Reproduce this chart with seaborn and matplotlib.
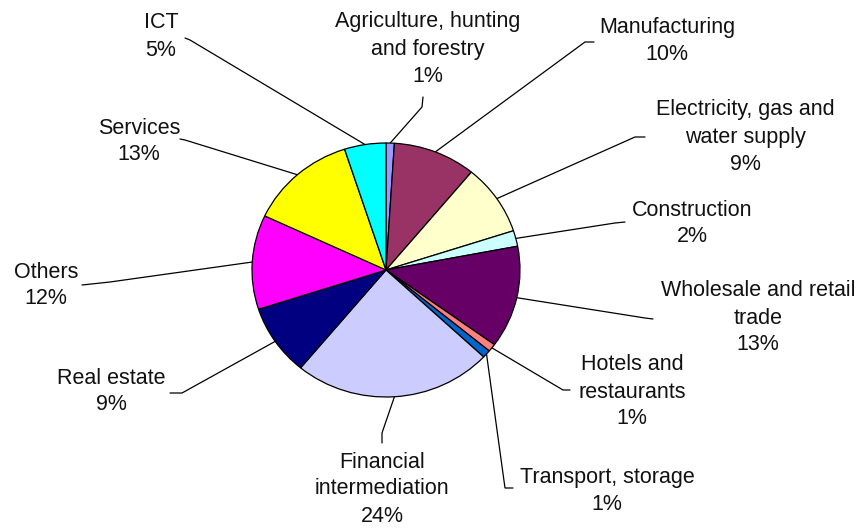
import numpy as np
import matplotlib
matplotlib.use("Agg")
import matplotlib.pyplot as plt
import seaborn as sns

# ---- data ----
sectors = ["Agriculture, hunting\nand forestry", "Manufacturing",
           "Electricity, gas and\nwater supply", "Construction",
           "Wholesale and retail\ntrade", "Hotels and\nrestaurants",
           "Transport, storage", "Financial\nintermediation",
           "Real estate", "Others", "Services", "ICT"]
shares = [1, 10, 9, 2, 13, 1, 1, 24, 9, 12, 13, 5]
slice_colors = ["#9999FF", "#993366", "#FFFFCC", "#CCFFFF", "#660066", "#FF8080",
                "#0066CC", "#CCCCFF", "#000080", "#FF00FF", "#FFFF00", "#00FFFF"]

# ---- layout (image pixel coordinates) ----
label_pos = [(428, 22), (667, 28), (745, 110), (692, 210), (758, 291), (632, 365),
             (607, 478), (382, 462), (111, 378), (46, 272), (139, 128), (161, 23)]
leader_tail = [[(422, 107), (423, 97)], [(585, 42), (594, 42)],
               [(635, 137), (645, 137)], [(615, 223), (625, 222)],
               [(645, 318), (653, 319)], [(563, 390), (570, 390)],
               [(505, 488), (513, 488)], [(382, 433), (382, 443)],
               [(182, 393), (170, 393)], [(110, 282), (82, 285)],
               [(185, 140), (180, 139)], [(190, 40), (185, 38)]]
LINE_H = 27

sns.set_theme(style="white")
plt.rcParams['font.family'] = ['Liberation Sans', 'DejaVu Sans']

W, H = 863, 529
fig = plt.figure(figsize=(W / 100, H / 100), dpi=100)
fig.patch.set_facecolor("white")

ov = fig.add_axes([0, 0, 1, 1])
ov.set_xlim(0, W)
ov.set_ylim(H, 0)
ov.axis("off")

cx, cy, rx, ry = 386, 270, 134, 127
axp = fig.add_axes([(cx - rx) / W, (H - (cy + ry)) / H, 2 * rx / W, 2 * ry / H])
wedges, _ = axp.pie(shares, colors=sns.color_palette(slice_colors), startangle=90,
                    counterclock=False, radius=1,
                    wedgeprops=dict(edgecolor="black", linewidth=0.9))
axp.set_aspect("auto")
axp.set_xlim(-1, 1)
axp.set_ylim(-1, 1)
axp.axis("off")

for w, name, share, (lx, ly), tail in zip(wedges, sectors, shares, label_pos, leader_tail):
    mid = np.deg2rad((w.theta1 + w.theta2) / 2)
    px, py = axp.transData.transform((np.cos(mid), np.sin(mid)))
    pts = [(px, H - py)] + tail
    ov.plot([p[0] for p in pts], [p[1] for p in pts], color="black", lw=0.9,
            solid_joinstyle="miter")
    lines = name.split("\n") + [f"{share}%"]
    for i, t in enumerate(lines):
        ov.text(lx, ly + i * LINE_H, t, ha="center", va="center", fontsize=15.5,
                color="#111111")

fig.savefig("out.png", dpi=100, facecolor="white")
